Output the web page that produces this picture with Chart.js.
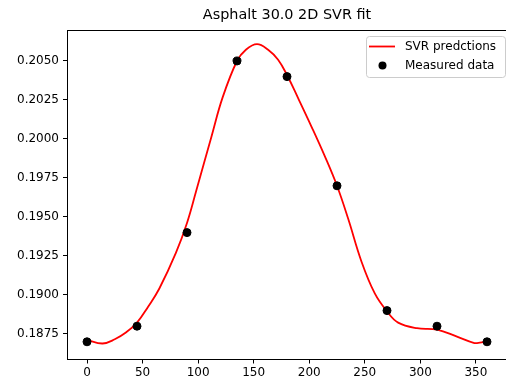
<!DOCTYPE html>
<html>
<head>
<meta charset="utf-8">
<script src="https://cdn.jsdelivr.net/npm/chart.js@4.4.1/dist/chart.umd.min.js"></script>
<style>
  html, body { margin: 0; padding: 0; background: #fff; overflow: hidden; }
  #wrap { width: 512px; height: 383px; }
</style>
</head>
<body>
<div id="wrap"><canvas id="myChart" width="512" height="383"></canvas></div>
<script>
// values
const measuredX = [0, 45, 90, 135, 180, 225, 270, 315, 360];
const measuredY = [0.1870, 0.1880, 0.1940, 0.2050, 0.2040, 0.1970, 0.1890, 0.1880, 0.1870];

const svrX = [0, 14, 25, 35, 45, 55, 65, 80, 90, 98, 112, 122, 135, 143, 153, 163, 172, 180,
  190, 202, 214, 225, 235, 247, 259, 270, 280, 297, 315, 333, 348, 351, 360];
const svrY = [0.18712, 0.18689, 0.18716, 0.18759, 0.18823, 0.18925, 0.19040, 0.19270, 0.19462,
  0.19660, 0.20015, 0.20265, 0.20500, 0.20572, 0.20608, 0.20572, 0.20508, 0.20410,
  0.20262, 0.20080, 0.19890, 0.19700, 0.19490, 0.19215, 0.19010, 0.18895, 0.18823,
  0.18787, 0.18778, 0.18733, 0.18693, 0.18692, 0.18702];

const xTicks = [0, 50, 100, 150, 200, 250, 300, 350];
const yTicks = [0.1875, 0.1900, 0.1925, 0.1950, 0.1975, 0.2000, 0.2025, 0.2050];

const titleText = 'Asphalt 30.0 2D SVR fit';
const FONT = 'DejaVu Sans';

// title over the axes + the two missing spines + legend box, matplotlib style
const mplDecor = {
  id: 'mplDecor',
  afterDraw(chart) {
    const ctx = chart.ctx;
    const a = chart.chartArea;
    ctx.save();

    ctx.strokeStyle = '#000';
    ctx.lineWidth = 1;
    ctx.beginPath();
    ctx.moveTo(a.left, a.top + 0.5);
    ctx.lineTo(a.right, a.top + 0.5);
    ctx.moveTo(a.right - 0.5, a.top);
    ctx.lineTo(a.right - 0.5, a.bottom);
    ctx.stroke();

    ctx.fillStyle = '#000';
    ctx.font = '14.4px "' + FONT + '"';
    ctx.textAlign = 'center';
    ctx.textBaseline = 'middle';
    ctx.fillText(titleText, (a.left + a.right) / 2, 15);

    // legend
    const bx = 366, by = 36, bw = 139, bh = 41;
    ctx.beginPath();
    ctx.roundRect(bx + 0.5, by + 0.5, bw, bh, 3);
    ctx.fillStyle = 'rgba(255,255,255,0.8)';
    ctx.fill();
    ctx.strokeStyle = '#cccccc';
    ctx.lineWidth = 1;
    ctx.stroke();

    const lineDs = chart.data.datasets[1];
    const dotDs = chart.data.datasets[0];
    ctx.strokeStyle = lineDs.borderColor;
    ctx.lineWidth = 1.8;
    ctx.beginPath();
    ctx.moveTo(369, 46.5);
    ctx.lineTo(395, 46.5);
    ctx.stroke();

    ctx.fillStyle = dotDs.backgroundColor;
    ctx.beginPath();
    ctx.arc(382.5, 65.5, 4, 0, Math.PI * 2);
    ctx.fill();

    ctx.fillStyle = '#000';
    ctx.font = '12px "' + FONT + '"';
    ctx.textAlign = 'left';
    ctx.fillText(lineDs.label, 405, 46.5);
    ctx.fillText(dotDs.label, 405, 65.5);
    ctx.restore();
  }
};

const ctx = document.getElementById('myChart').getContext('2d');
const myChart = new Chart(ctx, {
  type: 'scatter',
  data: {
    datasets: [
      {
        label: 'Measured data',
        data: measuredX.map((x, i) => ({ x: x, y: measuredY[i] })),
        backgroundColor: '#000000',
        borderColor: '#000000',
        pointRadius: 4,
        pointHoverRadius: 4,
        order: 0
      },
      {
        label: 'SVR predctions',
        data: svrX.map((x, i) => ({ x: x, y: svrY[i] })),
        showLine: true,
        borderColor: '#ff0000',
        backgroundColor: '#ff0000',
        borderWidth: 1.8,
        pointRadius: 0,
        tension: 0.4,
        order: 1
      }
    ]
  },
  options: {
    responsive: false,
    animation: false,
    layout: { padding: { top: 30, left: 0, right: 2, bottom: 0 } },
    plugins: {
      legend: { display: false },
      title: { display: false },
      tooltip: { enabled: false }
    },
    scales: {
      x: {
        type: 'linear',
        min: -18,
        max: 378,
        afterBuildTicks: (s) => { s.ticks = xTicks.map(v => ({ value: v })); },
        afterFit: (s) => { s.height = 23.5; },
        grid: { drawOnChartArea: false, drawTicks: true, tickLength: 4, tickColor: '#000' },
        border: { color: '#000', width: 1 },
        ticks: { color: '#000', padding: 2, font: { family: FONT, size: 12 } }
      },
      y: {
        type: 'linear',
        min: 0.185865,
        max: 0.206987,
        afterBuildTicks: (s) => { s.ticks = yTicks.map(v => ({ value: v })); },
        afterFit: (s) => { s.width = 67; },
        grid: { drawOnChartArea: false, drawTicks: true, tickLength: 4, tickColor: '#000' },
        border: { color: '#000', width: 1 },
        ticks: {
          color: '#000',
          padding: 4,
          font: { family: FONT, size: 12 },
          callback: (v) => Number(v).toFixed(4)
        }
      }
    }
  },
  plugins: [mplDecor]
});
</script>
</body>
</html>
